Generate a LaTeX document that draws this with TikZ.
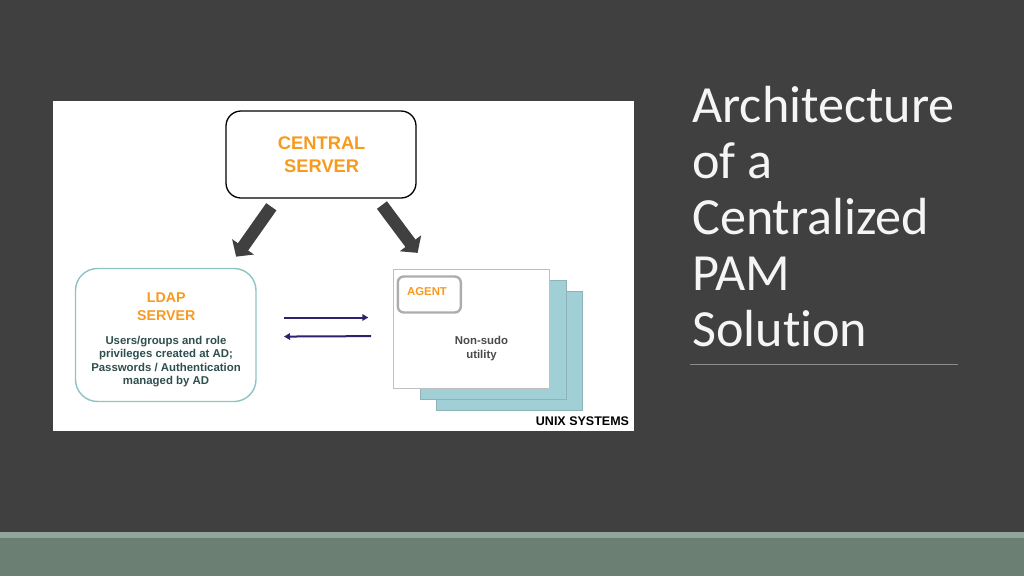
\documentclass[tikz,border=0pt]{standalone}
\usepackage{fontspec}
\setmainfont{Liberation Sans}
\newfontfamily\titlefont[Ligatures=NoCommon]{Carlito}
\usetikzlibrary{arrows.meta,positioning}
\definecolor{slidebg}{HTML}{404040}
\definecolor{bandlight}{HTML}{90A59B}
\definecolor{banddark}{HTML}{6B8072}
\definecolor{labelorange}{HTML}{F79A1E}
\definecolor{tealline}{HTML}{8CC5C6}
\definecolor{sheetfill}{HTML}{A0D0D6}
\definecolor{sheetline}{HTML}{8DB3B8}
\definecolor{arrownavy}{HTML}{2B2270}
\definecolor{desctext}{HTML}{2F4F4F}
\definecolor{greytext}{HTML}{4A4A4A}
\tikzset{
  px/.style={x=1pt,y=-1pt},
  boxbase/.style={rectangle,outer sep=0pt,inner sep=0pt},
  centralbox/.style={boxbase,draw=black,line width=1.3pt,fill=white,rounded corners=15pt,minimum width=190pt,minimum height=87pt},
  ldapbox/.style={boxbase,draw=tealline,line width=1.4pt,fill=white,rounded corners=22pt,minimum width=180.5pt,minimum height=133pt},
  sheetback/.style={boxbase,draw=sheetline,line width=0.8pt,fill=sheetfill,minimum width=146pt,minimum height=119pt},
  sheetfront/.style={boxbase,draw=black!25,line width=1pt,fill=white,minimum width=156pt,minimum height=119pt},
  agentbox/.style={boxbase,draw=black!32,line width=2.4pt,fill=white,rounded corners=6pt,minimum width=63pt,minimum height=36pt},
  orangehead/.style={text=labelorange,font=\bfseries\fontsize{18.3}{23}\selectfont,align=center,inner sep=0pt},
  orangesmall/.style={text=labelorange,font=\bfseries\fontsize{14.2}{18}\selectfont,align=center,inner sep=0pt},
  desc/.style={text=desctext,font=\bfseries\fontsize{11.4}{13.6}\selectfont,align=center,inner sep=0pt},
  bigarrow/.style={draw=slidebg,line width=12.5pt,-{Triangle[length=12pt,width=26pt]}},
  thinarrow/.style={draw=arrownavy,line width=2pt,-{Triangle[length=6pt,width=6.5pt]}},
}
\begin{document}
\begin{tikzpicture}[px]
\useasboundingbox (0,0) rectangle (1024,576);
\fill[slidebg] (0,0) rectangle (1024,576);
\fill[banddark] (0,532) rectangle (1024,576);
\fill[bandlight] (0,532) rectangle (1024,537.5);
\fill[white] (53,101) rectangle (634,431);

\node[centralbox] (central) at (321,154.5) {};
\node[orangehead] (centraltext) at (321.7,155) {CENTRAL\\SERVER};

\node[ldapbox] (ldap) at (165.75,335) {};
\node[orangesmall] (ldaptitle) at (166.3,307) {LDAP\\SERVER};
\node[desc] (ldapdesc) at (166,361.5) {Users/groups and role\\privileges created at AD;\\Passwords / Authentication\\managed by AD};

\node[sheetback] (back) at (509.7,350.5) {};
\node[sheetback] (mid) at (493,339.5) {};
\node[sheetfront] (front) at (471.3,328.5) {};
\node[agentbox] (agent) at (429.3,294.5) {};
\node[text=labelorange,font=\bfseries\fontsize{11.4}{14}\selectfont,inner sep=0pt] (agenttext) at (427,292) {AGENT};
\node[text=greytext,font=\bfseries\fontsize{11.4}{14}\selectfont,align=center,inner sep=0pt] (utility) at (481.5,348.5) {Non-sudo\\utility};
\node[text=black,font=\bfseries\fontsize{12.5}{15}\selectfont,inner sep=0pt] (unix) at (582.5,421) {UNIX SYSTEMS};

\draw[bigarrow,shorten <=10.7pt,shorten >=14.5pt] (central.225) -- (ldap.47.6);
\draw[bigarrow,shorten <=8.8pt,shorten >=20.1pt] (central.-38.6) -- (front.125.1);
\draw[thinarrow,shorten <=28pt,shorten >=25pt] ([yshift=17.5pt]ldap.east) -- ([yshift=11pt]front.west);
\draw[thinarrow,shorten <=22.3pt,shorten >=28pt] ([yshift=-7.5pt]front.west) -- ([yshift=-1.7pt]ldap.east);

\node[text=white!96!black,font=\titlefont\fontsize{52.2}{56}\selectfont,align=left,anchor=north west,inner sep=0pt] (title) at (692,86) {Architecture\\of a\\Centralized\\PAM\\Solution};
\coordinate (ruleL) at (690,364.5);
\coordinate (ruleR) at (958,364.5);
\draw[draw=black!45!white,line width=0.8pt] (ruleL) -- (ruleR);
\end{tikzpicture}
\end{document}
